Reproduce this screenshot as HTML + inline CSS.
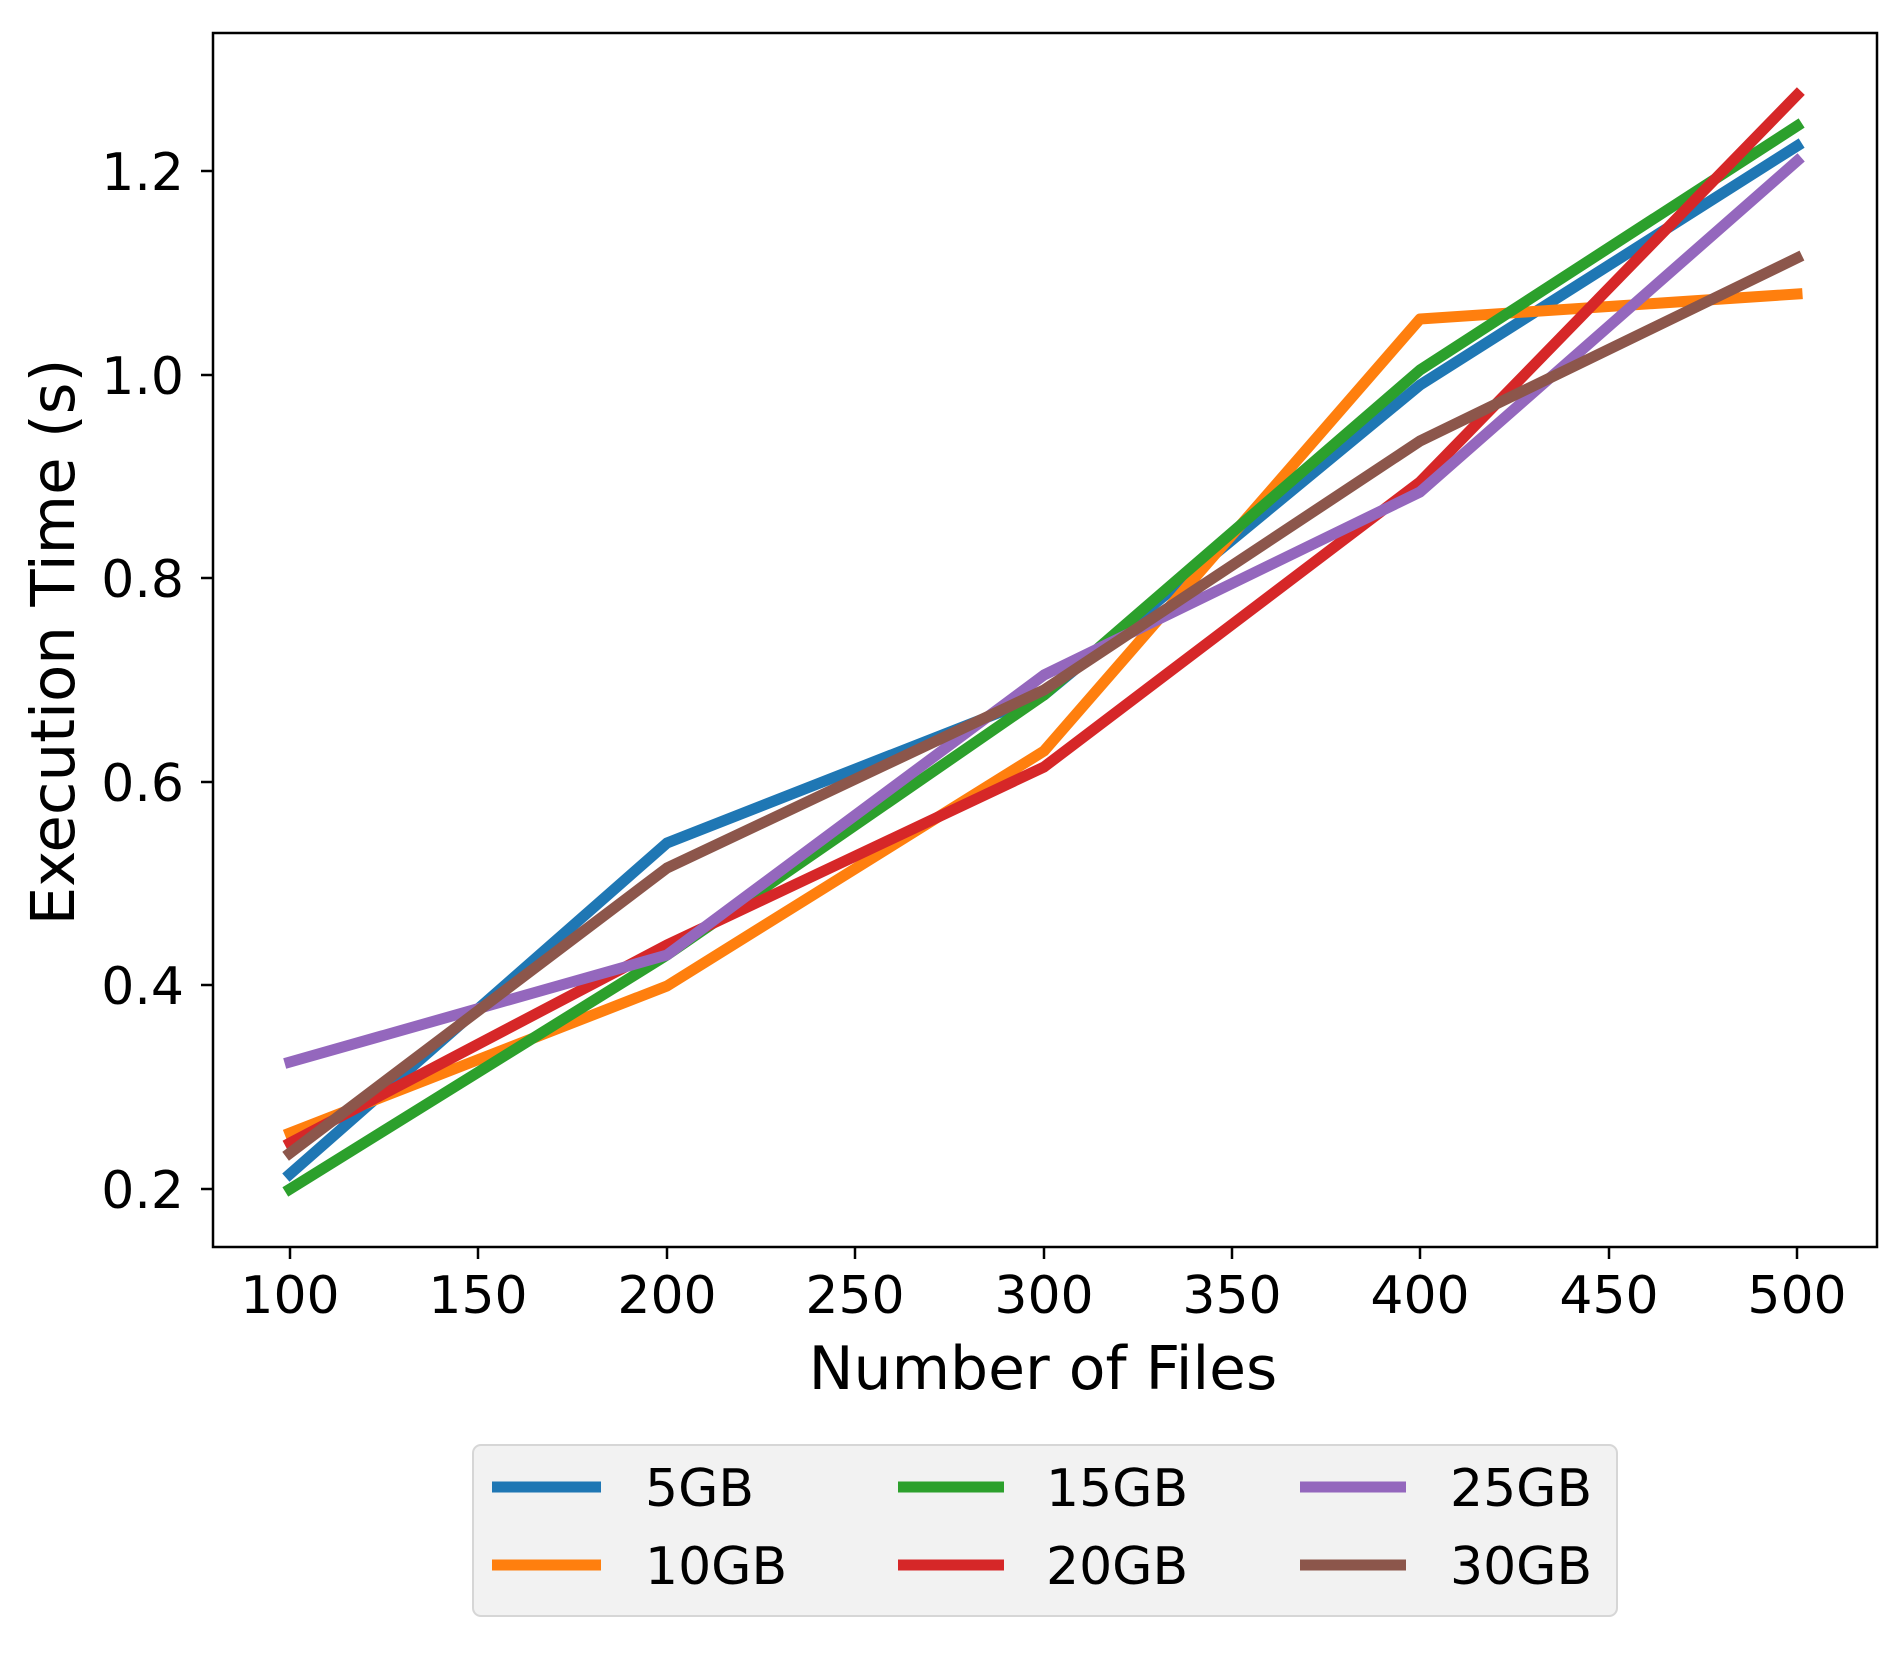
<!DOCTYPE html>
<html><head><style>html,body{margin:0;padding:0;background:#fff}</style></head>
<body>
<svg width="1899" height="1648" viewBox="0 0 1899 1648" xmlns="http://www.w3.org/2000/svg" font-family="'DejaVu Sans','Liberation Sans',sans-serif">
<rect width="1899" height="1648" fill="#fff"/>
<defs><clipPath id="c"><rect x="213" y="33" width="1664" height="1214"/></clipPath></defs>
<g clip-path="url(#c)" fill="none" stroke-width="11" stroke-linecap="square" stroke-linejoin="round">
<polyline stroke="#1f77b4" points="290,1174 667,843 1044,695 1420,385 1797,146"/>
<polyline stroke="#ff7f0e" points="290,1133 667,986 1044,751 1420,319 1797,294"/>
<polyline stroke="#2ca02c" points="290,1189 667,955 1044,695 1420,370 1797,126"/>
<polyline stroke="#d62728" points="290,1143 667,945 1044,767 1420,482 1797,95"/>
<polyline stroke="#9467bd" points="290,1062 667,955 1044,675 1420,492 1797,161"/>
<polyline stroke="#8c564b" points="290,1153 667,868 1044,690 1420,441 1797,258"/>
</g>
<rect x="213" y="33" width="1664" height="1214" fill="none" stroke="#000" stroke-width="2.5"/>
<g stroke="#000" stroke-width="2.5">
<line x1="290" y1="1247" x2="290" y2="1259"/><line x1="478" y1="1247" x2="478" y2="1259"/>
<line x1="667" y1="1247" x2="667" y2="1259"/><line x1="855" y1="1247" x2="855" y2="1259"/>
<line x1="1044" y1="1247" x2="1044" y2="1259"/><line x1="1232" y1="1247" x2="1232" y2="1259"/>
<line x1="1420" y1="1247" x2="1420" y2="1259"/><line x1="1609" y1="1247" x2="1609" y2="1259"/>
<line x1="1797" y1="1247" x2="1797" y2="1259"/>
<line x1="201" y1="1189" x2="213" y2="1189"/><line x1="201" y1="985" x2="213" y2="985"/>
<line x1="201" y1="782" x2="213" y2="782"/><line x1="201" y1="578" x2="213" y2="578"/>
<line x1="201" y1="375" x2="213" y2="375"/><line x1="201" y1="171" x2="213" y2="171"/>
</g>
<g font-size="52" fill="#000" text-anchor="middle">
<text x="290" y="1313">100</text><text x="478" y="1313">150</text><text x="667" y="1313">200</text>
<text x="855" y="1313">250</text><text x="1044" y="1313">300</text><text x="1232" y="1313">350</text>
<text x="1420" y="1313">400</text><text x="1609" y="1313">450</text><text x="1797" y="1313">500</text>
</g>
<g font-size="52" fill="#000" text-anchor="end">
<text x="184" y="1208">0.2</text><text x="184" y="1004">0.4</text><text x="184" y="801">0.6</text>
<text x="184" y="597">0.8</text><text x="184" y="394">1.0</text><text x="184" y="190">1.2</text>
</g>
<text x="1043" y="1389" font-size="60" text-anchor="middle">Number of Files</text>
<text transform="translate(74,642) rotate(-90)" font-size="61" text-anchor="middle">Execution Time (s)</text>
<rect x="473" y="1445" width="1144" height="171" rx="8" fill="#f2f2f2" stroke="#d6d6d6" stroke-width="2"/>
<g stroke-width="11">
<line x1="492" y1="1487" x2="601" y2="1487" stroke="#1f77b4"/>
<line x1="492" y1="1565" x2="601" y2="1565" stroke="#ff7f0e"/>
<line x1="898" y1="1487" x2="1004" y2="1487" stroke="#2ca02c"/>
<line x1="898" y1="1565" x2="1004" y2="1565" stroke="#d62728"/>
<line x1="1300" y1="1487" x2="1406" y2="1487" stroke="#9467bd"/>
<line x1="1300" y1="1565" x2="1406" y2="1565" stroke="#8c564b"/>
</g>
<g font-size="52" fill="#000">
<text x="645" y="1506">5GB</text><text x="645" y="1584">10GB</text>
<text x="1046" y="1506">15GB</text><text x="1046" y="1584">20GB</text>
<text x="1450" y="1506">25GB</text><text x="1450" y="1584">30GB</text>
</g>
</svg>
</body></html>
